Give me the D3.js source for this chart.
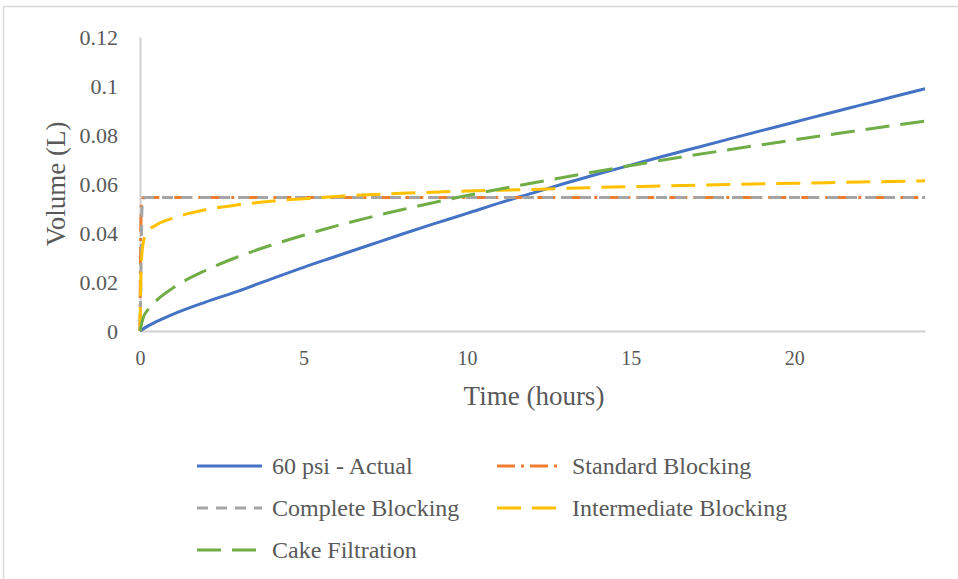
<!DOCTYPE html>
<html>
<head>
<meta charset="utf-8">
<script src="https://cdnjs.cloudflare.com/ajax/libs/d3/7.8.5/d3.min.js"></script>
<style>
    html, body { margin: 0; padding: 0; background: #fff; }
    svg text { font-family: "Liberation Serif", "Times New Roman", serif; fill: #595959; }
</style>
</head>
<body>
<div id="chart"></div>
<script>
(function(){

    "use strict";

    //-> values (hours / litres)
    var actualTime = [0, 0.25, 0.5, 1, 2, 3, 4, 5, 6, 7, 8, 9, 10, 11, 12, 13, 14, 15, 16, 17, 18, 19, 20, 21, 22, 23, 24];
    var actualVol  = [0, 0.0021, 0.0038, 0.0068, 0.0118, 0.0163, 0.0212, 0.026, 0.0305, 0.035, 0.0395, 0.0438, 0.048, 0.0523, 0.0563, 0.0603, 0.0641, 0.0677, 0.0713, 0.0748, 0.0783, 0.0818, 0.0852, 0.0887, 0.0921, 0.0955, 0.0989];

    var standardTime = [0, 0.01, 0.02, 0.03, 0.05, 0.1, 0.5, 1, 2, 24];
    var standardVol  = [0, 0.02, 0.036, 0.046, 0.053, 0.0545, 0.0545, 0.0545, 0.0545, 0.0545];

    var completeTime = [0, 0.02, 0.04, 0.06, 0.1, 0.2, 24];
    var completeVol  = [0, 0.015, 0.035, 0.05, 0.0543, 0.0545, 0.0545];

    var intermTime = [0, 0.02, 0.05, 0.1, 0.2, 0.5, 1, 1.5, 2, 3, 4, 5, 6, 8, 10, 12, 14, 16, 18, 20, 22, 24];
    var intermVol  = [0, 0.018, 0.030, 0.036, 0.040, 0.0433, 0.046, 0.048, 0.0495, 0.0515, 0.053, 0.054, 0.0549, 0.0562, 0.0571, 0.0578, 0.0586, 0.0592, 0.0598, 0.0603, 0.0608, 0.0613];

    var cakeTime = [0, 0.1, 0.25, 0.5, 1, 2, 3, 4, 5, 6, 8, 10, 12, 14, 16, 18, 20, 22, 24];
    var cakeVol  = [0, 0.0055, 0.0088, 0.0124, 0.0175, 0.0247, 0.0303, 0.035, 0.0391, 0.0429, 0.0495, 0.0553, 0.0604, 0.0652, 0.0698, 0.074, 0.078, 0.0819, 0.0857];

    var seriesNames = ["60 psi - Actual", "Standard Blocking", "Complete Blocking", "Intermediate Blocking", "Cake Filtration"];
    var xTicks = [0, 5, 10, 15, 20];
    var yTicks = [0, 0.02, 0.04, 0.06, 0.08, 0.1, 0.12];

    var zip = function(ts, vs){
        return ts.map(function(t, i){ return {t: t, v: vs[i]}; });
    };

    var series = [
        {name: seriesNames[0], data: zip(actualTime, actualVol),     color: "#4472C4", dash: null},
        {name: seriesNames[1], data: zip(standardTime, standardVol), color: "#ED7D31", dash: "18,6,3,6"},
        {name: seriesNames[2], data: zip(completeTime, completeVol), color: "#A5A5A5", dash: "11,8"},
        {name: seriesNames[3], data: zip(intermTime, intermVol),     color: "#FFC000", dash: "24,11"},
        {name: seriesNames[4], data: zip(cakeTime, cakeVol),         color: "#70AD47", dash: "24,11"}
    ];

    // -> dimensions
    var W = 958, H = 579,
        plot = {left: 140, right: 925, top: 37, bottom: 331};

    var x = d3.scaleLinear().domain([0, 24]).range([plot.left, plot.right]),
        y = d3.scaleLinear().domain([0, 0.12]).range([plot.bottom, plot.top]);

    var svg = d3.select("#chart").append("svg")
        .attr("width", W)
        .attr("height", H);

    //-> outer frame
    svg.append("rect")
        .attr("x", 3.5).attr("y", 6.5)
        .attr("width", W + 10).attr("height", H + 10)
        .attr("fill", "#fff")
        .attr("stroke", "#D9D9D9")
        .attr("stroke-width", 1.5);

    //-> Y axis
    var yAxis = svg.append("g")
        .attr("transform", "translate(" + plot.left + ",0)")
        .call(d3.axisLeft(y).tickValues(yTicks).tickSize(0).tickPadding(22)
            .tickFormat(function(d){ return d === 0 ? "0" : String(+d.toFixed(2)); }));
    yAxis.select(".domain").attr("stroke", "#D0D0D0").attr("stroke-width", 2);
    yAxis.selectAll("text").attr("font-size", 22).attr("font-family", null).attr("fill", null);

    //-> X axis
    var xAxis = svg.append("g")
        .attr("transform", "translate(0," + plot.bottom + ")")
        .call(d3.axisBottom(x).tickValues(xTicks).tickSize(0).tickPadding(20));
    xAxis.select(".domain").attr("stroke", "#D0D0D0").attr("stroke-width", 2);
    xAxis.selectAll("text").attr("font-size", 20).attr("font-family", null).attr("fill", null);

    //-> lines
    var line = d3.line()
        .x(function(d){ return x(d.t); })
        .y(function(d){ return y(d.v); })
        .curve(d3.curveMonotoneX);

    svg.append("g").selectAll("path")
        .data(series)
        .enter().append("path")
        .attr("d", function(d){ return line(d.data); })
        .attr("fill", "none")
        .attr("stroke", function(d){ return d.color; })
        .attr("stroke-width", 3)
        .attr("stroke-dasharray", function(d){ return d.dash; });

    //-> axis titles
    svg.append("text")
        .attr("x", 534).attr("y", 405)
        .attr("text-anchor", "middle")
        .attr("font-size", 27)
        .text("Time (hours)");

    svg.append("text")
        .attr("text-anchor", "middle")
        .attr("transform", "translate(65,184)rotate(-90)")
        .attr("font-size", 27)
        .text("Volume (L)");

    //-> legend
    var legendPos = [[197, 466], [497, 466], [197, 508], [497, 508], [197, 550]];
    var legend = svg.append("g").selectAll("g")
        .data(series)
        .enter().append("g")
        .attr("transform", function(d, i){ return "translate(" + legendPos[i][0] + "," + legendPos[i][1] + ")"; });

    legend.append("line")
        .attr("x1", 0).attr("x2", 65)
        .attr("stroke", function(d){ return d.color; })
        .attr("stroke-width", 3)
        .attr("stroke-dasharray", function(d){ return d.dash; });

    legend.append("text")
        .attr("x", 75).attr("y", 8)
        .attr("font-size", 24)
        .text(function(d){ return d.name; });

})();
</script>
</body>
</html>
